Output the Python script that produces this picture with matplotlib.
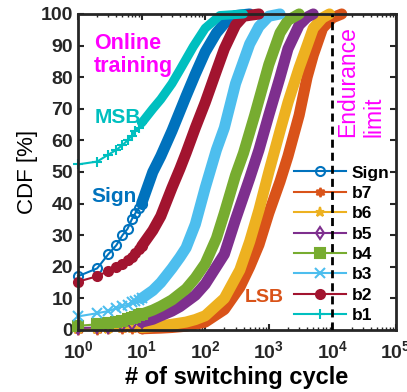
import numpy as np
import matplotlib
matplotlib.use("Agg")
import matplotlib.pyplot as plt

plt.rcParams['font.family'] = 'Liberation Sans'
plt.rcParams['mathtext.fontset'] = 'custom'
plt.rcParams['mathtext.bf'] = 'Liberation Sans:bold'
plt.rcParams['mathtext.rm'] = 'Liberation Sans'

# CDF of switching cycles per bit
sign_x = [1, 2, 3, 4, 5, 6, 7, 8, 9, 10, 15, 20, 30, 50, 70, 100, 150, 200, 300, 500]
sign_y = [17, 19.5, 24, 26.8, 30, 32, 35, 37, 38.5, 40, 50, 55, 63, 74, 81, 88, 94, 97, 99.5, 100]

b7_x = [1, 2, 3, 5, 7, 10, 20, 30, 50, 100, 200, 350, 500, 700, 1000, 1500, 2000, 3000, 4000, 5000, 7000, 10000, 14000]
b7_y = [0.1, 0.15, 0.2, 0.25, 0.3, 0.4, 0.6, 0.8, 1.2, 2.5, 6.5, 13.5, 20, 27, 37, 47, 55, 68, 80, 87, 95.5, 98.8, 100]

b6_x = [1, 2, 3, 5, 7, 10, 20, 30, 50, 70, 100, 200, 350, 500, 700, 1000, 1500, 2000, 3000, 4000, 5000, 7000, 9000]
b6_y = [0.3, 0.35, 0.4, 0.5, 0.6, 0.8, 1.3, 1.8, 2.5, 3.3, 4.5, 10, 19, 28, 38, 50, 63, 72, 83, 90, 95.5, 98.8, 100]

b5_x = [1, 2, 3, 5, 7, 10, 15, 20, 30, 40, 70, 100, 200, 300, 500, 700, 1000, 1500, 2000, 3000, 4000, 5000]
b5_y = [0.6, 0.8, 1, 1.5, 2, 2.5, 3.4, 4.5, 6, 7.4, 11, 14.5, 24, 35, 48, 57, 68, 80, 89, 96.5, 99, 100]

b4_x = [1, 2, 3, 4, 5, 6, 7, 8, 9, 10, 15, 20, 30, 50, 70, 100, 150, 200, 300, 400, 600, 1000, 1500, 2000, 3000]
b4_y = [1.3, 1.8, 2.2, 2.6, 3, 3.4, 3.8, 4.2, 4.6, 5, 6.3, 7.5, 9.5, 13, 16.5, 21, 29, 37, 49, 56, 68, 84, 94, 98, 100]

b3_x = [1, 2, 3, 4, 5, 6, 7, 8, 9, 10, 15, 20, 30, 40, 50, 70, 100, 150, 200, 300, 500, 700, 1000, 1500]
b3_y = [4.3, 5.3, 6, 6.9, 7.5, 8, 8.7, 9.2, 9.6, 10, 12.5, 15, 19.5, 23, 26, 33.5, 45, 57, 64, 78, 90.5, 96, 99.3, 100]

b2_x = [1, 2, 3, 4, 5, 6, 7, 8, 9, 10, 15, 20, 30, 40, 50, 70, 100, 150, 200, 300, 400, 700]
b2_y = [15.3, 17, 18.7, 20, 21, 22, 23, 24.5, 25.5, 26.5, 31.5, 36, 45, 51, 56, 64, 72, 82, 89, 96.5, 99.3, 100]

b1_x = [1, 2, 3, 4, 5, 6, 7, 8, 9, 10, 15, 20, 30, 40, 65, 100, 170, 400]
b1_y = [52.4, 53.3, 55.5, 57, 58.5, 60, 61.5, 63, 64, 65.5, 70, 73, 78, 82.3, 89.7, 95.5, 99.5, 100]

names = ['Sign', 'b7', 'b6', 'b5', 'b4', 'b3', 'b2', 'b1']
xs = [sign_x, b7_x, b6_x, b5_x, b4_x, b3_x, b2_x, b1_x]
ys = [sign_y, b7_y, b6_y, b5_y, b4_y, b3_y, b2_y, b1_y]
colors = ['#0072BD', '#D95319', '#EDB120', '#7E2F8E', '#77AC30', '#4DBEEE', '#A2142F', '#00BFBF']
markers = ['o', (6, 1, 0), '*', 'd', 's', 'x', 'o', '+']
filled = [False, True, True, False, True, True, True, True]
band_w = [8, 8, 8, 8, 8, 8, 8, 6.5]

fig = plt.figure(figsize=(4.07, 3.92), dpi=100)
ax = fig.add_axes([0.1917, 0.1582, 0.7813, 0.8061])

for name, xv, yv, c, m, f, w in zip(names, xs, ys, colors, markers, filled, band_w):
    xv = np.array(xv, dtype=float)
    yv = np.array(yv, dtype=float)
    early = xv <= 10
    late = xv >= 10
    ax.plot(xv[early], yv[early], color=c, lw=1.5, marker=m, ms=6.5, mew=1.5,
            mfc=c if f else 'none', label=name, clip_on=False)
    ax.plot(xv[late], yv[late], color=c, lw=w, solid_capstyle='round',
            solid_joinstyle='round', clip_on=False)

ax.axvline(1e4, color='k', ls=(0, (2.9, 1.8)), lw=2, zorder=6)

ax.set_xscale('log')
ax.set_xlim(1, 1e5)
ax.set_ylim(0, 100)
ax.set_xticks([10 ** k for k in range(6)],
              [r'$\mathbf{10^{%d}}$' % k for k in range(6)], fontsize=14)
ax.set_yticks(range(0, 101, 10), [str(v) for v in range(0, 101, 10)],
              fontsize=14, fontweight='bold')
ax.tick_params(which='both', direction='in', top=True, right=True, colors='#262626')
ax.tick_params(which='major', length=4, width=1.5)
ax.tick_params(which='minor', length=2.5, width=1)
ax.tick_params(axis='x', which='major', pad=7)
for s in ax.spines.values():
    s.set_linewidth(2)
    s.set_color('#262626')

ax.set_xlabel('# of switching cycle', fontsize=17, fontweight='bold', labelpad=3)
ax.set_ylabel('CDF [%]', fontsize=16, labelpad=2)

ax.text(1.78, 87, 'Online\ntraining', color='#FF00FF', fontsize=15.5,
        fontweight='bold', va='center', ha='left', linespacing=1.15)
ax.text(1.85, 67.1, 'MSB', color='#00BFBF', fontsize=15, fontweight='bold',
        va='center', ha='left')
ax.text(1.6, 42.2, 'Sign', color='#0072BD', fontsize=15, fontweight='bold',
        va='center', ha='left')
ax.text(841, 10.4, 'LSB', color='#D95319', fontsize=14, fontweight='bold',
        va='center', ha='center')
ax.text(1.15e4, 61, 'Endurance\nlimit', color='#FF00FF', fontsize=16.5,
        rotation=90, va='bottom', ha='left', multialignment='left', linespacing=1.2)

ax.legend(loc='lower right', frameon=False, prop=dict(weight='bold', size=12.5),
          handlelength=3.0, labelspacing=0.3, handletextpad=0.3,
          borderaxespad=0.25, borderpad=0.15)

fig.savefig('out.png', dpi=100)
